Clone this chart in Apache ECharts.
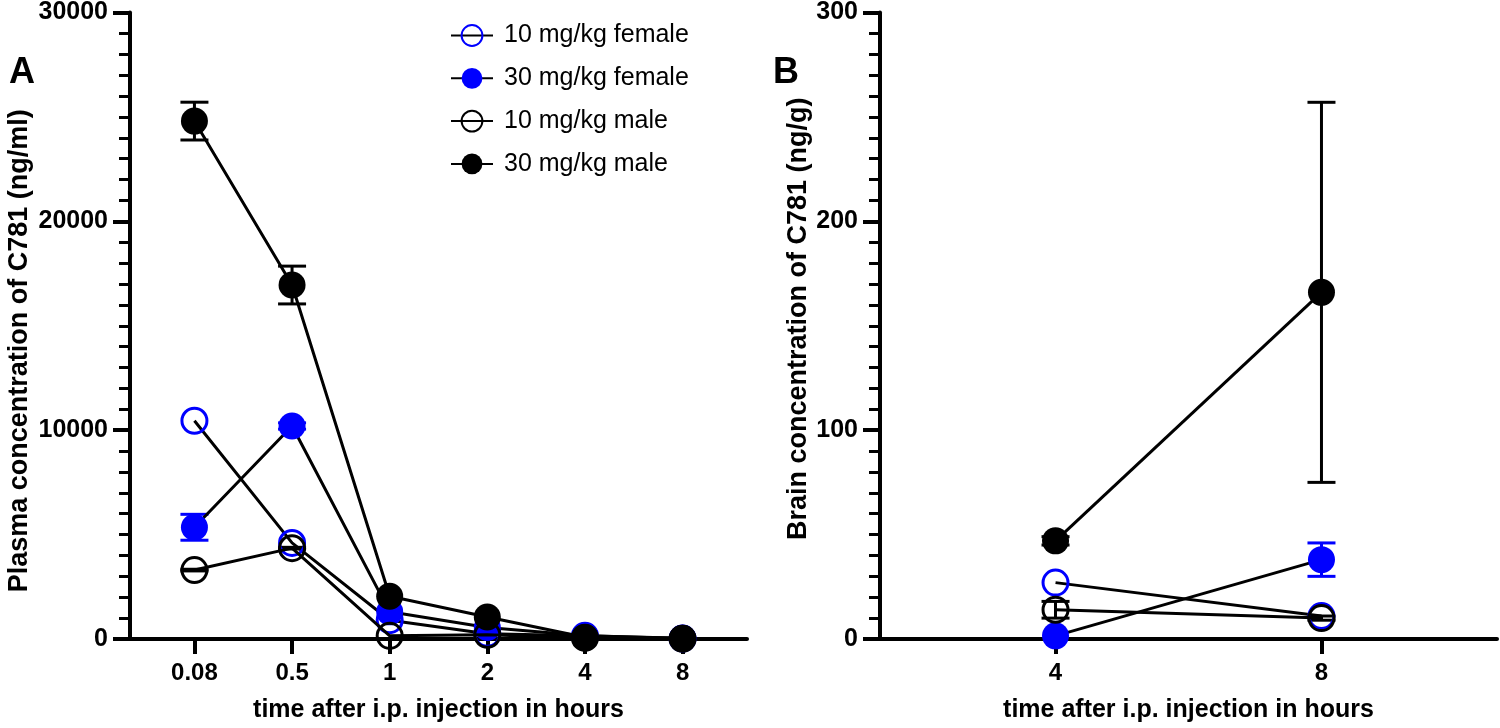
<!DOCTYPE html>
<html>
<head>
<meta charset="utf-8">
<script src="https://cdn.jsdelivr.net/npm/echarts@6/dist/echarts.min.js"></script>
<style>
  html, body { margin: 0; padding: 0; background: #fff; }
  #chart { width: 1500px; height: 728px; }
</style>
</head>
<body>
<div id="chart"></div>
<script>
// Panel A: plasma concentration (ng/ml)
const catsA = ['0.08', '0.5', '1', '2', '4', '8'];
const plasmaF10 = [10450, 4600, 900, 250, 150, 20];
const plasmaF30 = [5350, 10200, 1300, 550, 150, 30];
const plasmaM10 = [3300, 4350, 150, 200, 50, 10];
const plasmaM30 = [24800, 16950, 2050, 1050, 80, 40];
const plasmaErrF30 = [620, 150, 0, 0, 0, 0];
const plasmaErrM10 = [40, 40, 0, 0, 0, 0];
const plasmaErrM30 = [905, 905, 0, 0, 0, 0];
const ticksA = [0, 10000, 20000, 30000];

// Panel B: brain concentration (ng/g)
const catsB = ['4', '8'];
const brainF10 = [27, 11];
const brainF30 = [1.5, 38];
const brainM10 = [14, 10];
const brainM30 = [47, 166];
const brainErrF30 = [0, 8];
const brainErrM10 = [4, 1];
const brainErrM30 = [2, 91];
const ticksB = [0, 100, 200, 300];

const names = ['10 mg/kg female', '30 mg/kg female', '10 mg/kg male', '30 mg/kg male'];

const BLUE = '#0000ff';
const FONT = 'Liberation Sans, Arial, Helvetica, sans-serif';

const chart = echarts.init(document.getElementById('chart'));

// symbol styles: open circles keep a clear fill so the line shows through
const styles = [
  { color: 'rgba(255,255,255,0)', borderColor: BLUE, borderWidth: 3 },
  { color: BLUE, borderColor: BLUE, borderWidth: 0 },
  { color: 'rgba(255,255,255,0)', borderColor: '#000', borderWidth: 3 },
  { color: '#000', borderColor: '#000', borderWidth: 0 }
];

function pts(vals) {
  return vals.map((v, i) => [i, v]);
}

function lineSeries(idx, vals, axis) {
  return {
    type: 'line',
    name: names[idx],
    xAxisIndex: axis,
    yAxisIndex: axis,
    data: pts(vals),
    symbol: 'circle',
    symbolSize: idx % 2 === 0 ? 25 : 27,
    showAllSymbol: true,
    itemStyle: styles[idx],
    lineStyle: { color: '#000', width: 3 },
    emphasis: { disabled: true },
    z: 3 + idx
  };
}

function errSeries(vals, errs, color, axis) {
  const data = [];
  vals.forEach((v, i) => {
    if (errs[i] > 0) data.push([i, v - errs[i], v + errs[i]]);
  });
  return {
    type: 'custom',
    xAxisIndex: axis,
    yAxisIndex: axis,
    silent: true,
    z: 2,
    data: data,
    renderItem: function (params, api) {
      const x = api.value(0);
      const top = api.coord([x, api.value(2)]);
      const bot = api.coord([x, api.value(1)]);
      const w = 14;
      const st = { stroke: color, lineWidth: 3 };
      return {
        type: 'group',
        children: [
          { type: 'line', shape: { x1: top[0], y1: top[1], x2: bot[0], y2: bot[1] }, style: st },
          { type: 'line', shape: { x1: top[0] - w, y1: top[1], x2: top[0] + w, y2: top[1] }, style: st },
          { type: 'line', shape: { x1: bot[0] - w, y1: bot[1], x2: bot[0] + w, y2: bot[1] }, style: st }
        ]
      };
    }
  };
}

function xAxisFor(cats, gridIndex) {
  const idx = cats.map((c, i) => i);
  return {
    type: 'value',
    gridIndex: gridIndex,
    min: -0.66,
    max: cats.length - 1 + 0.66,
    name: 'time after i.p. injection in hours',
    nameLocation: 'middle',
    nameGap: 59,
    nameTextStyle: { fontFamily: FONT, fontWeight: 'bold', fontSize: 25, color: '#000' },
    splitLine: { show: false },
    axisLine: { onZero: false, lineStyle: { color: '#000', width: 4 } },
    axisTick: { customValues: idx, length: 15, lineStyle: { color: '#000', width: 4 } },
    axisLabel: {
      customValues: idx,
      formatter: v => cats[Math.round(v)],
      margin: 22,
      fontFamily: FONT, fontWeight: 'bold', fontSize: 24, color: '#000'
    }
  };
}

// pad shifts the rotated name along the axis: right pad moves it down, left pad moves it up
function yAxisFor(ticks, name, gap, pad, gridIndex) {
  return {
    type: 'value',
    gridIndex: gridIndex,
    min: ticks[0],
    max: ticks[ticks.length - 1],
    interval: ticks[1] - ticks[0],
    name: name,
    nameLocation: 'middle',
    nameRotate: 90,
    nameGap: gap,
    nameTextStyle: { fontFamily: FONT, fontWeight: 'bold', fontSize: 27, color: '#000', padding: pad },
    splitLine: { show: false },
    axisLine: { show: true, onZero: false, lineStyle: { color: '#000', width: 4 } },
    axisTick: { show: true, length: 17, lineStyle: { color: '#000', width: 4 } },
    minorTick: { show: true, splitNumber: 10, length: 11, lineStyle: { color: '#000', width: 3 } },
    axisLabel: {
      margin: 22,
      formatter: v => String(v),
      fontFamily: FONT, fontWeight: 'bold', fontSize: 25, color: '#000'
    }
  };
}

const option = {
  animation: false,
  backgroundColor: '#fff',
  title: [
    { text: 'A', left: 4, top: 50, textStyle: { fontFamily: FONT, fontWeight: 'bold', fontSize: 36, color: '#000' } },
    { text: 'B', left: 768, top: 50, textStyle: { fontFamily: FONT, fontWeight: 'bold', fontSize: 36, color: '#000' } }
  ],
  legend: {
    data: names,
    orient: 'vertical',
    left: 445,
    top: 18,
    itemWidth: 42,
    itemHeight: 26,
    itemGap: 17.8,
    selectedMode: false,
    textStyle: { fontFamily: FONT, fontSize: 25, color: '#000', padding: [0, 0, 0, 6] }
  },
  grid: [
    { left: 130, top: 10, width: 617, height: 630 },
    { left: 880, top: 10, width: 617, height: 630 }
  ],
  xAxis: [xAxisFor(catsA, 0), xAxisFor(catsB, 1)],
  yAxis: [
    yAxisFor(ticksA, 'Plasma concentration of C781 (ng/ml)', 97, [0, 50, 0, 0], 0),
    yAxisFor(ticksB, 'Brain concentration of C781 (ng/g)', 65, [0, 0, 0, 14], 1)
  ],
  series: [
    errSeries(plasmaF30, plasmaErrF30, BLUE, 0),
    errSeries(plasmaM10, plasmaErrM10, '#000', 0),
    errSeries(plasmaM30, plasmaErrM30, '#000', 0),
    errSeries(brainF30, brainErrF30, BLUE, 1),
    errSeries(brainM10, brainErrM10, '#000', 1),
    errSeries(brainM30, brainErrM30, '#000', 1),
    lineSeries(0, plasmaF10, 0),
    lineSeries(1, plasmaF30, 0),
    lineSeries(2, plasmaM10, 0),
    lineSeries(3, plasmaM30, 0),
    lineSeries(0, brainF10, 1),
    lineSeries(1, brainF30, 1),
    lineSeries(2, brainM10, 1),
    lineSeries(3, brainM30, 1)
  ]
};

chart.setOption(option);
</script>
</body>
</html>
